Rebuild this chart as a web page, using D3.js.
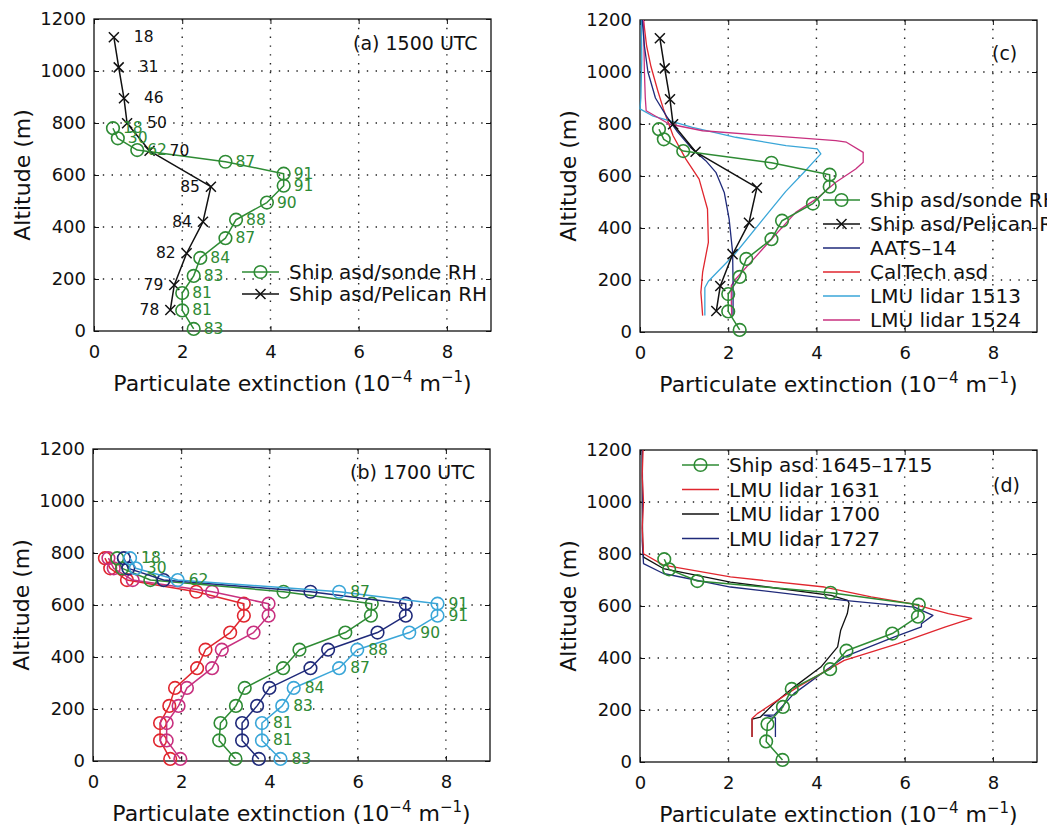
<!DOCTYPE html>
<html>
<head>
<meta charset="utf-8">
<script src="https://cdn.jsdelivr.net/npm/d3@7"></script>
<style>
  body { margin: 0; background: #fff; }
  svg { display: block; }
</style>
</head>
<body>
<svg id="chart" width="1047" height="830"></svg>
<script>
const FONT = "'DejaVu Sans', sans-serif";

const xTicks = [0, 2, 4, 6, 8];
const yTicks = [0, 200, 400, 600, 800, 1000, 1200];

// sonde levels (m) shared by the ship asd profiles, with sonde RH (%)
const sondeAlt = [780, 741, 696, 651, 605, 559, 494, 428, 357, 281, 212, 146, 79, 8];
const sondeRH = [18, 30, 62, 87, 91, 91, 90, 88, 87, 84, 83, 81, 81, 83];

// Pelican levels (m) with Pelican RH (%)
const pelicanAlt = [1130, 1014, 895, 799, 693, 555, 420, 299, 177, 81];
const pelicanRH = [18, 31, 46, 50, 70, 85, 84, 82, 79, 78];

// (a) / (c) 1500 UTC ship asd extinction
const shipSonde1500 = [0.43, 0.54, 0.98, 2.98, 4.30, 4.30, 3.92, 3.22, 2.98, 2.41, 2.26, 2.00, 2.00, 2.26];
const shipPelican1500 = [0.45, 0.56, 0.68, 0.75, 1.26, 2.65, 2.47, 2.10, 1.82, 1.73];

// (b) 1700 UTC ship asd extinction, five profiles
const asdGreen1700 = [0.55, 0.66, 1.30, 4.32, 6.32, 6.30, 5.72, 4.68, 4.31, 3.44, 3.24, 2.89, 2.86, 3.23];
const asdNavy1700 = [0.70, 0.80, 1.60, 4.93, 7.09, 7.09, 6.45, 5.33, 4.93, 4.00, 3.72, 3.38, 3.38, 3.76];
const asdCyan1700 = [0.84, 0.97, 1.92, 5.58, 7.81, 7.81, 7.17, 5.99, 5.58, 4.55, 4.29, 3.83, 3.83, 4.25];
const asdRed1700 = [0.27, 0.39, 0.77, 2.34, 3.42, 3.42, 3.11, 2.55, 2.36, 1.86, 1.73, 1.52, 1.52, 1.75];
const asdMagenta1700 = [0.35, 0.47, 0.90, 2.70, 3.98, 3.98, 3.64, 2.92, 2.70, 2.13, 1.94, 1.67, 1.67, 1.98];

// (c) profiles: [extinction, altitude]
const aats14 = [[0.05,1200],[0.1,1100],[0.18,1000],[0.35,900],[0.6,830],[0.85,770],[1.15,710],[1.49,659],[1.72,614],[1.91,537],[2.02,435],[2.10,306],[2.11,178],[2.11,63]];
const caltechAsd = [[0.08,1200],[0.15,1100],[0.25,1020],[0.4,930],[0.53,858],[0.75,755],[1.04,665],[1.34,588],[1.53,473],[1.55,345],[1.42,230],[1.38,153],[1.40,110],[1.42,63]];
const lidar1513 = [[0.03,1200],[0.04,1050],[0.02,900],[0.0,858],[0.3,830],[0.66,813],[1.19,787],[2.17,749],[3.31,717],[4.02,704],[4.10,685],[3.99,665],[3.75,620],[3.30,540],[2.70,415],[2.15,300],[1.55,195],[1.47,170],[1.47,63]];
const lidar1524 = [[0.08,1200],[0.1,1000],[0.12,900],[0.14,851],[0.66,800],[1.42,774],[2.93,755],[4.44,736],[4.68,730],[5.06,691],[5.06,653],[4.89,627],[4.44,576],[4.0,512],[3.53,460],[2.78,319],[2.17,204],[2.07,178],[2.07,120],[2.08,63]];

// (d) lidar profiles: [extinction, altitude]
const lidar1631 = [[0.07,1200],[0.05,1100],[0.08,1000],[0.05,900],[0.08,801],[0.53,757],[2.05,712],[4.18,673],[5.24,635],[6.15,609],[6.99,571],[7.52,552],[6.91,519],[5.85,455],[4.63,391],[3.57,288],[2.66,186],[2.54,167],[2.54,96]];
const lidar1700 = [[0.05,1200],[0.05,1000],[0.06,850],[0.08,788],[0.53,744],[2.05,692],[4.33,641],[4.71,622],[4.74,610],[4.70,571],[4.55,507],[4.48,443],[4.10,365],[3.49,288],[3.04,225],[2.73,173],[2.54,165],[2.54,96]];
const lidar1727 = [[0.05,1200],[0.06,1000],[0.05,850],[0.08,763],[0.53,725],[2.05,673],[4.63,622],[6.22,596],[6.64,564],[6.38,532],[6.38,520],[5.77,481],[4.63,404],[3.49,263],[3.04,180],[2.81,180],[3.07,170],[3.07,96]];

const GREEN = '#2e8b34', NAVY = '#1f2a7a', CYAN = '#3aa6d8', RED = '#e0262e', MAGENTA = '#c8307f';

const W = 397, H = 312;
const svg = d3.select('#chart');

function makePanel(left, top) {
    const g = svg.append('g').attr('transform', `translate(${left},${top})`);
    const x = d3.scaleLinear().domain([0, 9]).range([0, W]);
    const y = d3.scaleLinear().domain([0, 1200]).range([H, 0]);

    // dotted grid
    const grid = g.append('g').attr('stroke', '#222').attr('stroke-width', 1.4).attr('stroke-dasharray', '1.4,7.4');
    grid.selectAll('.gx').data(xTicks.filter(t => t > 0)).join('line')
        .attr('x1', d => x(d)).attr('x2', d => x(d)).attr('y1', 0).attr('y2', H);
    grid.selectAll('.gy').data(yTicks.filter(t => t > 0 && t < 1200)).join('line')
        .attr('y1', d => y(d)).attr('y2', d => y(d)).attr('x1', 0).attr('x2', W);

    const style = sel => {
        sel.attr('font-family', FONT).attr('font-size', 18);
        sel.select('.domain').remove();
        sel.selectAll('.tick line').attr('stroke', '#111');
        sel.selectAll('.tick text').attr('fill', '#111');
    };
    g.append('g').attr('transform', `translate(0,${H})`)
        .call(d3.axisBottom(x).tickValues(xTicks).tickFormat(d3.format('d')).tickSize(-5).tickPadding(14)).call(style);
    g.append('g').call(d3.axisTop(x).tickValues(xTicks).tickSize(-5).tickFormat('')).call(style);
    g.append('g').call(d3.axisLeft(y).tickValues(yTicks).tickFormat(d3.format('d')).tickSize(-5).tickPadding(8)).call(style);
    g.append('g').attr('transform', `translate(${W},0)`)
        .call(d3.axisRight(y).tickValues(yTicks).tickSize(-5).tickFormat('')).call(style);

    g.append('rect').attr('width', W).attr('height', H)
        .attr('fill', 'none').attr('stroke', '#111').attr('stroke-width', 1.3);

    // axis titles
    svg.append('text')
        .attr('transform', `translate(${left - 72},${top + H / 2}) rotate(-90)`)
        .attr('text-anchor', 'middle').attr('dominant-baseline', 'central')
        .attr('font-family', FONT).attr('font-size', 22).attr('fill', '#111')
        .text('Altitude (m)');
    const xl = svg.append('text')
        .attr('x', left + W / 2).attr('y', top + H + 60)
        .attr('text-anchor', 'middle').attr('font-family', FONT).attr('font-size', 22).attr('fill', '#111');
    xl.append('tspan').text('Particulate extinction (10');
    xl.append('tspan').attr('dy', -9).attr('font-size', 15).text('\u22124');
    xl.append('tspan').attr('dy', 9).text(' m');
    xl.append('tspan').attr('dy', -9).attr('font-size', 15).text('\u22121');
    xl.append('tspan').attr('dy', 9).text(')');

    return { g, x, y };
}

function drawProfile(p, pts, color, width) {
    const line = d3.line().x(d => p.x(d[0])).y(d => p.y(d[1]));
    p.g.append('path').datum(pts).attr('d', line)
        .attr('fill', 'none').attr('stroke', color).attr('stroke-width', width)
        .attr('stroke-linejoin', 'round');
}

function drawCircles(p, xs, ys, color) {
    const pts = d3.zip(xs, ys);
    drawProfile(p, pts, color, 1.5);
    p.g.append('g').selectAll('circle').data(pts).join('circle')
        .attr('cx', d => p.x(d[0])).attr('cy', d => p.y(d[1])).attr('r', 6.3)
        .attr('fill', 'none').attr('stroke', color).attr('stroke-width', 1.6);
}

function drawCrosses(p, xs, ys, color) {
    const pts = d3.zip(xs, ys);
    drawProfile(p, pts, color, 1.5);
    p.g.append('g').selectAll('path').data(pts).join('path')
        .attr('transform', d => `translate(${p.x(d[0])},${p.y(d[1])})`)
        .attr('d', 'M-5,-5L5,5M-5,5L5,-5')
        .attr('stroke', color).attr('stroke-width', 1.5);
}

function addLabels(p, xs, ys, labels, color, dx, anchor) {
    p.g.append('g').selectAll('text').data(d3.zip(xs, ys, labels)).join('text')
        .attr('x', (d, i) => p.x(d[0]) + (typeof dx === 'function' ? dx(i) : dx))
        .attr('y', d => p.y(d[1]))
        .attr('text-anchor', (d, i) => typeof anchor === 'function' ? anchor(i) : anchor)
        .attr('dominant-baseline', 'central')
        .attr('font-family', FONT).attr('font-size', 15.5).attr('fill', color)
        .text(d => d[2]);
}

function addTitle(p, tx, ty, text) {
    p.g.append('text').attr('x', tx).attr('y', ty).attr('dominant-baseline', 'central')
        .attr('font-family', FONT).attr('font-size', 19).attr('fill', '#111').text(text);
}

function addLegend(p, entries, lx, ly, dy) {
    const lg = p.g.append('g');
    entries.forEach((e, i) => {
        const yy = ly + i * dy;
        lg.append('line').attr('x1', lx).attr('x2', lx + 37).attr('y1', yy).attr('y2', yy)
            .attr('stroke', e.color).attr('stroke-width', e.marker ? 1.5 : 1.4);
        if (e.marker === 'o') {
            lg.append('circle').attr('cx', lx + 18.5).attr('cy', yy).attr('r', 6.3)
                .attr('fill', 'none').attr('stroke', e.color).attr('stroke-width', 1.6);
        } else if (e.marker === 'x') {
            lg.append('path').attr('transform', `translate(${lx + 18.5},${yy})`)
                .attr('d', 'M-5,-5L5,5M-5,5L5,-5').attr('stroke', e.color).attr('stroke-width', 1.5);
        }
        lg.append('text').attr('x', lx + 47).attr('y', yy).attr('dominant-baseline', 'central')
            .attr('font-family', FONT).attr('font-size', 20).attr('fill', '#111').text(e.label);
    });
}

// (a) 1500 UTC
const pa = makePanel(94, 19);
drawCrosses(pa, shipPelican1500, pelicanAlt, '#111');
drawCircles(pa, shipSonde1500, sondeAlt, GREEN);
addLabels(pa, shipSonde1500, sondeAlt, sondeRH, GREEN, 10, 'start');
addLabels(pa, shipPelican1500, pelicanAlt, pelicanRH, '#111',
    i => i < 5 ? 20 : -11, i => i < 5 ? 'start' : 'end');
addTitle(pa, 259, 24, '(a) 1500 UTC');
addLegend(pa, [
    { label: 'Ship asd/sonde RH', color: GREEN, marker: 'o' },
    { label: 'Ship asd/Pelican RH', color: '#111', marker: 'x' }
], 148, 253, 22);

// (b) 1700 UTC
const pb = makePanel(93, 449);
drawCircles(pb, asdRed1700, sondeAlt, RED);
drawCircles(pb, asdMagenta1700, sondeAlt, MAGENTA);
drawCircles(pb, asdGreen1700, sondeAlt, GREEN);
drawCircles(pb, asdNavy1700, sondeAlt, NAVY);
drawCircles(pb, asdCyan1700, sondeAlt, CYAN);
addLabels(pb, asdCyan1700, sondeAlt, sondeRH, GREEN, 11, 'start');
addTitle(pb, 257, 23, '(b) 1700 UTC');

// (c)
const pc = makePanel(640, 20);
drawProfile(pc, caltechAsd, RED, 1.3);
drawProfile(pc, lidar1513, CYAN, 1.3);
drawProfile(pc, lidar1524, MAGENTA, 1.3);
drawProfile(pc, aats14, NAVY, 1.3);
drawCrosses(pc, shipPelican1500, pelicanAlt, '#111');
drawCircles(pc, shipSonde1500, sondeAlt, GREEN);
addTitle(pc, 352, 33, '(c)');
addLegend(pc, [
    { label: 'Ship asd/sonde RH', color: GREEN, marker: 'o' },
    { label: 'Ship asd/Pelican RH', color: '#111', marker: 'x' },
    { label: 'AATS\u201314', color: NAVY },
    { label: 'CalTech asd', color: RED },
    { label: 'LMU lidar 1513', color: CYAN },
    { label: 'LMU lidar 1524', color: MAGENTA }
], 183, 180, 24);

// (d)
const pd = makePanel(640, 450);
drawProfile(pd, lidar1700, '#111', 1.3);
drawProfile(pd, lidar1727, NAVY, 1.3);
drawProfile(pd, lidar1631, RED, 1.3);
drawCircles(pd, asdGreen1700, sondeAlt, GREEN);
addTitle(pd, 353, 35, '(d)');
addLegend(pd, [
    { label: 'Ship asd 1645\u20131715', color: GREEN, marker: 'o' },
    { label: 'LMU lidar 1631', color: RED },
    { label: 'LMU lidar 1700', color: '#111' },
    { label: 'LMU lidar 1727', color: NAVY }
], 42, 15, 24.5);
</script>
</body>
</html>
